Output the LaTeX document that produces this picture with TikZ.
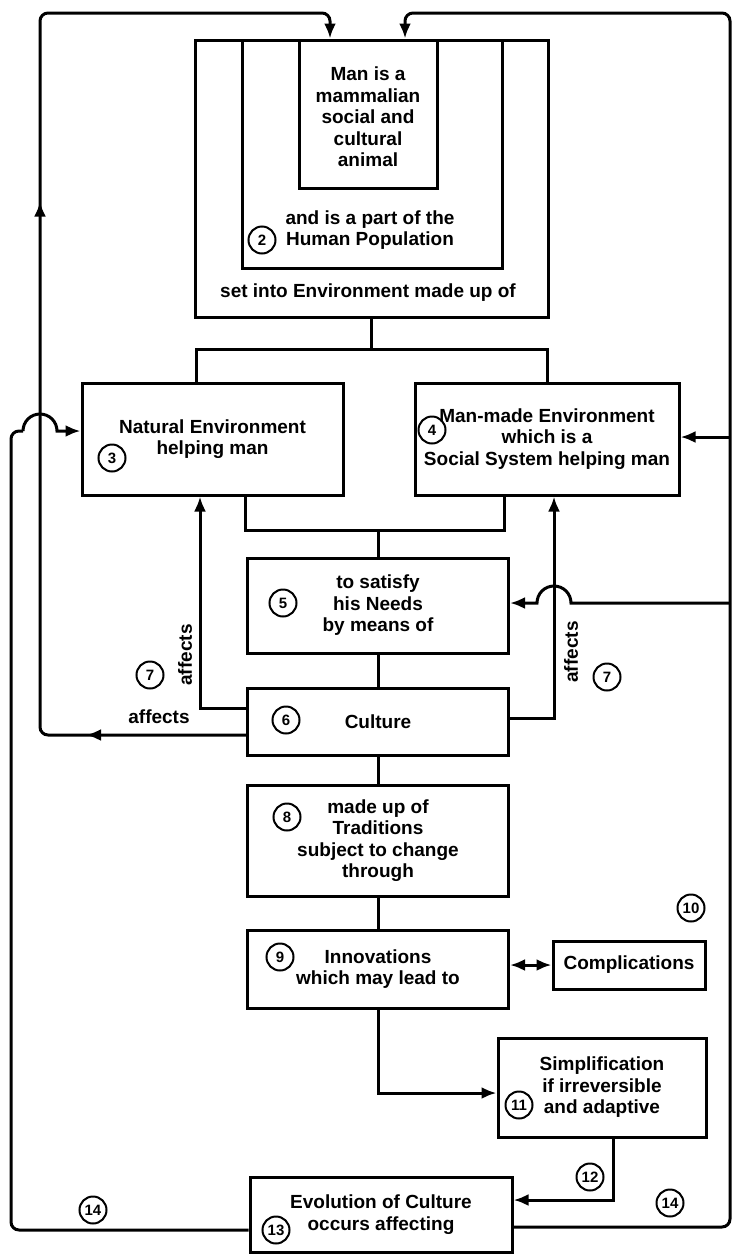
\documentclass[tikz,border=0pt]{standalone}
\usepackage{fontspec}
\setmainfont{Liberation Sans}
\usetikzlibrary{arrows.meta,positioning,decorations.markings}

\begin{document}
\begin{tikzpicture}[x=1pt,y=-1pt,line width=3pt,
  font=\fontsize{19}{21.5}\selectfont\bfseries,
  box/.style={draw,line width=3pt,inner sep=0pt,align=center},
  txt/.style={align=center,inner sep=0pt},
  num/.style={draw,circle,line width=2pt,inner sep=0pt,minimum size=27pt,font=\fontsize{15}{15}\selectfont\bfseries},
  >={Latex[length=15pt,width=12pt]}]
\useasboundingbox (0,0) rectangle (732,1256);

\node[box,minimum width=353pt,minimum height=277pt] (env) at (371.5,178.5) {};
\node[box,minimum width=260pt,minimum height=228pt] (pop) at (372,154) {};
\node[box,minimum width=138pt,minimum height=148pt] (man) at (368,114) {};
\node[txt] (mantxt) at (368,117) {Man is a\\mammalian\\social and\\cultural\\animal};
\node[txt] (poptxt) at (370,230) {and is a part of the\\Human Population};
\node[txt] (envtxt) at (368,293) {set into Environment made up of};

\node[box,minimum width=261pt,minimum height=112pt] (nat) at (212.5,439) {Natural Environment\\helping man};
\node[box,minimum width=264pt,minimum height=112pt] (mm) at (547,439) {Man-made Environment\\which is a\\Social System helping man};
\node[box,minimum width=261pt,minimum height=95pt] (needs) at (378,605.5) {to satisfy\\his Needs\\by means of};
\node[box,minimum width=261pt,minimum height=67pt] (cult) at (378,721.5) {Culture};
\node[box,minimum width=261pt,minimum height=111pt] (trad) at (378,840.5) {made up of\\Traditions\\subject to change\\through};
\node[box,minimum width=261pt,minimum height=78pt] (innov) at (378,969) {Innovations\\which may lead to};
\node[box,minimum width=152pt,minimum height=48pt] (comp) at (629,965) {Complications};
\node[box,minimum width=208pt,minimum height=99pt] (simp) at (602,1087.5) {Simplification\\if irreversible\\and adaptive};
\node[box,minimum width=262pt,minimum height=75pt] (evo) at (381,1214.5) {Evolution of Culture\\occurs affecting};

\node[num] (n2) at (262,240) {2};
\node[num] (n3) at (112,458) {3};
\node[num] (n4) at (432,430) {4};
\node[num] (n5) at (283,603) {5};
\node[num] (n6) at (286,720) {6};
\node[num] (n7a) at (150,675) {7};
\node[num] (n7b) at (607,677) {7};
\node[num] (n8) at (287,817) {8};
\node[num] (n9) at (280,957) {9};
\node[num] (n10) at (691,908) {10};
\node[num] (n11) at (519,1105) {11};
\node[num] (n12) at (590,1177) {12};
\node[num] (n13) at (276,1230) {13};
\node[num] (n14a) at (93,1210) {14};
\node[num] (n14b) at (670,1203) {14};

\node[rotate=90] (aff1) at (185,655) {affects};
\node[rotate=90] (aff2) at (571,652) {affects};
\node (aff3) at (159,717) {affects};

\draw (env.south) -- ++(0,31) coordinate (split);
\draw ([xshift=-16.5pt]nat.north) |- (split) -| (mm.north);
\coordinate (join) at (378,530);
\draw ([xshift=32.5pt]nat.south) |- (join) -| ([xshift=-43pt]mm.south);
\draw (join) -- (needs.north);
\draw (needs) -- (cult);
\draw (cult) -- (trad);
\draw (trad) -- (innov);
\draw[<->] ([yshift=4pt]innov.east) -- (comp.west);
\draw[->] (innov.south) |- ([yshift=-5.5pt]simp.west);
\draw[->] ([xshift=11pt]simp.south) |- ([yshift=14.5pt]evo.east);

\draw[->] ([yshift=13.5pt]cult.west) -| ([xshift=-12.5pt]nat.south);
\draw[->] ([yshift=3.5pt]cult.east) -| ([xshift=7pt]mm.south);

\draw[->,rounded corners=8pt,postaction={decorate},
  decoration={markings,mark=at position 160pt with {\arrow{>}},mark=at position 736pt with {\arrow{>}}}]
  ([yshift=-13.5pt]cult.west) -| (40,13) -| ([xshift=-38pt]man.north);

\draw[->,rounded corners=8pt] ([yshift=-12.5pt]evo.east) -| (730,13) -| ([xshift=37pt]man.north);
\draw[->] (730,437) -- ([yshift=2pt]mm.east);
\draw[->] (730,603) -- (571,603) arc (0:-180:17) -- ([yshift=2.5pt]needs.east);

\draw[rounded corners=8pt] ([yshift=-15.5pt]evo.west) -| (11,431) -- (23,431);
\draw[->] (23,431) arc (180:360:17) -- ([yshift=8pt]nat.west);
\end{tikzpicture}
\end{document}
